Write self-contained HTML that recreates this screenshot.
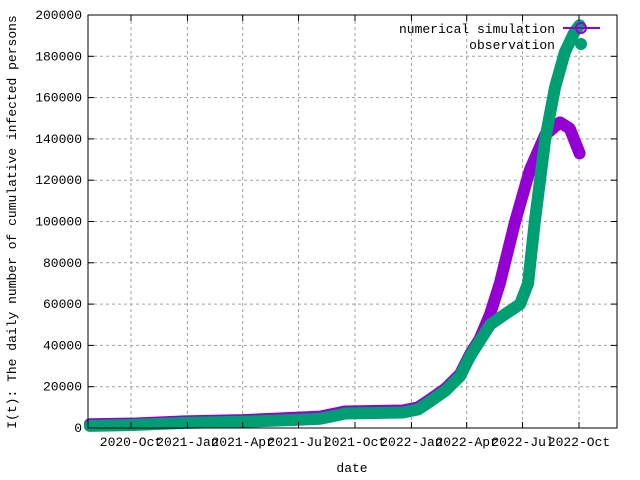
<!DOCTYPE html>
<html><head><meta charset="utf-8"><style>
body{margin:0;background:#fff}
svg{display:block;font-family:"Liberation Mono",monospace;font-size:13px}
</style></head><body>
<svg id="chart" width="640" height="480" viewBox="0 0 640 480">
<g id="grid"></g>
<g id="series"></g>
<rect x="88" y="15" width="529" height="413" fill="none" stroke="#000" stroke-width="1"/>
<g id="axes"></g>
<text x="352" y="472" text-anchor="middle">date</text>
<text transform="translate(16,222) rotate(-90)" text-anchor="middle">I(t): The daily number of cumulative infected persons</text>
<g>
<text x="555" y="33" text-anchor="end">numerical simulation</text>
<line x1="563" y1="28" x2="600" y2="28" stroke="#9400d3" stroke-width="2"/>
<circle cx="581" cy="28" r="5" fill="none" stroke="#9400d3" stroke-width="2"/>
<text x="555" y="49" text-anchor="end">observation</text>
<circle cx="581" cy="44" r="6" fill="#009e73"/>
</g>
</svg>
<script>
const xTickLabels=["2020-Oct","2021-Jan","2021-Apr","2021-Jul","2021-Oct","2022-Jan","2022-Apr","2022-Jul","2022-Oct"];
const xTickDays=[92,184,274,365,457,549,639,730,822];
const yTicks=[0,20000,40000,60000,80000,100000,120000,140000,160000,180000,200000];
const obsDays=[25,100,180,274,365,400,433,440,535,560,580,604,628,645,660,677,701,726,739,750,767,783,799,815,823];
const obsVals=[1000,1500,2500,3000,4000,4500,6500,7000,7500,9000,13000,18000,25000,35000,42000,50000,55000,60000,70000,100000,140000,165000,182000,192000,195000];
const simDays=[25,100,180,274,365,400,433,440,535,560,580,604,628,645,660,677,693,718,742,767,791,807,823];
const simVals=[1800,2200,3200,3800,5000,5500,7500,8000,8500,10000,14000,19000,26000,36000,43000,55000,70000,100000,125000,142000,148000,145000,133000];
const X=d=>131+(d-92)*(448/730);
const Y=v=>428-v*(413/200000);
const NS="http://www.w3.org/2000/svg";
const grid=document.getElementById('grid'),axes=document.getElementById('axes'),series=document.getElementById('series');
function mk(tag,attrs,parent){const e=document.createElementNS(NS,tag);for(const k in attrs)e.setAttribute(k,attrs[k]);parent.appendChild(e);return e;}
yTicks.forEach((v,i)=>{
  const y=Y(v);
  if(i>0&&i<yTicks.length-1){const g=mk('line',{x1:88,x2:617,y1:y,y2:y,stroke:'#a0a0a0','stroke-dasharray':'3,3'},grid);
  
  }
  const t1=mk('line',{x1:88,x2:94,y1:y,y2:y,stroke:'#000'},axes);
  
  
  const t2=mk('line',{x1:611,x2:617,y1:y,y2:y,stroke:'#000'},axes);
  
  
  const tx=mk('text',{x:82,y:y+4,'text-anchor':'end'},axes);tx.textContent=v;
  
  
});
xTickDays.forEach((d,i)=>{
  const x=X(d);
  const g=mk('line',{x1:x,x2:x,y1:15,y2:428,stroke:'#a0a0a0','stroke-dasharray':'3,3'},grid);
  
  
  const t=mk('line',{x1:x,x2:x,y1:422,y2:428,stroke:'#000'},axes);
  
  
  const t2=mk('line',{x1:x,x2:x,y1:15,y2:21,stroke:'#000'},axes);
  
  
  const tx=mk('text',{x:x,y:446,'text-anchor':'middle'},axes);tx.textContent=xTickLabels[i];
  
  
});
function draw(days,vals,color,name){
  const pts=days.map((d,i)=>X(d)+','+Y(vals[i])).join(' ');
  const p=mk('polyline',{points:pts,fill:'none',stroke:color,'stroke-width':12,'stroke-linecap':'round','stroke-linejoin':'round'},series);
  
  
}
draw(simDays,simVals,'#9400d3','simulation-line');
draw(obsDays,obsVals,'#009e73','observation-line');
</script>
</body></html>
